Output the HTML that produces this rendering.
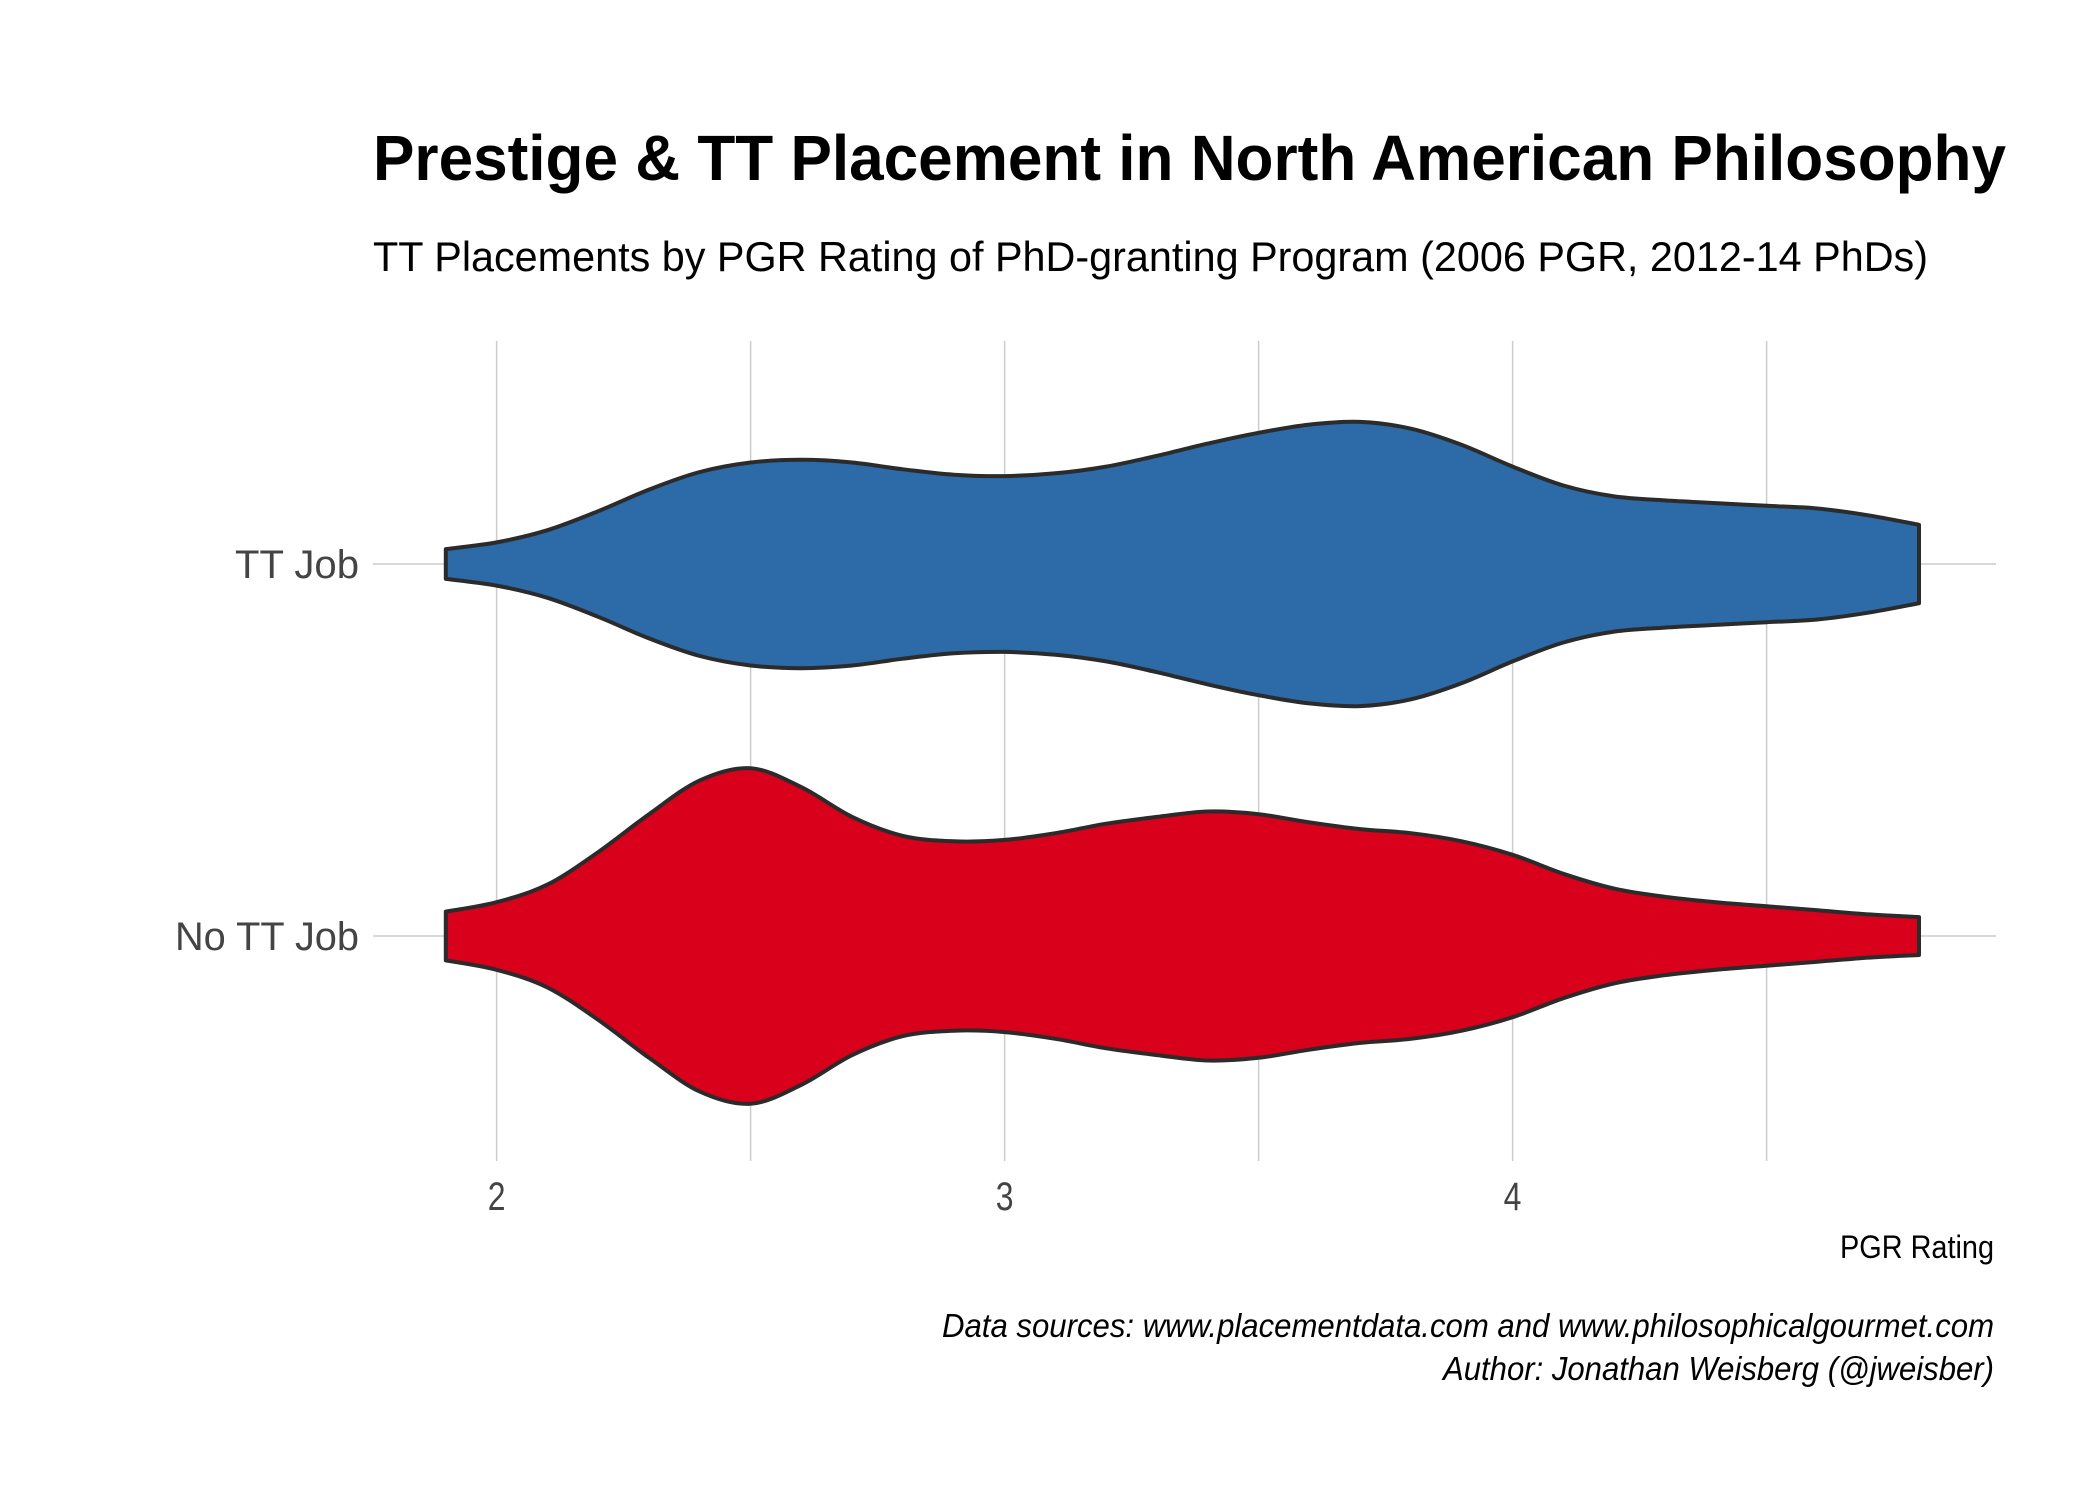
<!DOCTYPE html>
<html><head><meta charset="utf-8"><style>
html,body{margin:0;padding:0;background:#fff;}
svg{display:block;font-family:"Liberation Sans",sans-serif;}
</style></head><body>
<svg id="chart" width="2100" height="1500" viewBox="0 0 2100 1500" xmlns="http://www.w3.org/2000/svg">
<text x="373" y="180" font-size="64" font-weight="bold" fill="#000" textLength="1633" lengthAdjust="spacingAndGlyphs">Prestige &amp; TT Placement in North American Philosophy</text>
<text x="373" y="271" font-size="42" fill="#000" textLength="1555" lengthAdjust="spacingAndGlyphs">TT Placements by PGR Rating of PhD-granting Program (2006 PGR, 2012-14 PhDs)</text>
<g id="grid"></g>
<g id="violins"></g>
<g id="axes"></g>
<text x="1994" y="1258" font-size="32" fill="#000" text-anchor="end" textLength="154" lengthAdjust="spacingAndGlyphs">PGR Rating</text>
<text x="1994" y="1337" font-size="33" font-style="italic" fill="#000" text-anchor="end" textLength="1052" lengthAdjust="spacingAndGlyphs">Data sources: www.placementdata.com and www.philosophicalgourmet.com</text>
<text x="1994" y="1380" font-size="33" font-style="italic" fill="#000" text-anchor="end" textLength="551" lengthAdjust="spacingAndGlyphs">Author: Jonathan Weisberg (@jweisber)</text>
</svg>
<script>
const categories = ["TT Job", "No TT Job"];
const fills = ["#2c6aa8", "#d8001a"];
const gridX = [2, 2.5, 3, 3.5, 4, 4.5];
const tickValues = [2, 3, 4];
const tickLabels = ["2", "3", "4"];
const xs = [1.9,2.0,2.1,2.2,2.3,2.4,2.5,2.6,2.7,2.8,2.9,3.0,3.1,3.2,3.3,3.4,3.5,3.6,3.7,3.8,3.9,4.0,4.1,4.2,4.3,4.4,4.5,4.6,4.7,4.8];
const densTT = [11,16,25,39,55,68,75,77,75,70,66,65,67,72,80,89,97,103,105,100,88,72,58,50,47,45,43,41,36,29];
const densNo = [18,25,38,62,90,115,124,110,88,74,70,71,76,83,88,92,90,84,79,76,70,60,46,35,29,25,22,19,16,14];
const densities = [densTT, densNo];

const NS = "http://www.w3.org/2000/svg";
const px0 = 373, px1 = 1996, py0 = 341, py1 = 1161;
const xScale = v => 496.6 + (v - 2) * 508;
const yScale = i => [564, 936][i];
const wScale = d => d * 1.353;

const grid = document.getElementById('grid');
gridX.forEach(v => {
  const l = document.createElementNS(NS, 'line');
  
  
  l.setAttribute('x1', xScale(v)); l.setAttribute('x2', xScale(v));
  l.setAttribute('y1', py0); l.setAttribute('y2', py1);
  l.setAttribute('stroke', '#cccccc'); l.setAttribute('stroke-width', '1.5');
  grid.appendChild(l);
});
categories.forEach((c, i) => {
  const l = document.createElementNS(NS, 'line');
  
  
  l.setAttribute('x1', px0); l.setAttribute('x2', px1);
  l.setAttribute('y1', yScale(i)); l.setAttribute('y2', yScale(i));
  l.setAttribute('stroke', '#cccccc'); l.setAttribute('stroke-width', '1.5');
  grid.appendChild(l);
});

function smooth(pts) {
  let d = '';
  for (let i = 0; i < pts.length - 1; i++) {
    const p0 = pts[Math.max(0, i - 1)], p1 = pts[i], p2 = pts[i + 1], p3 = pts[Math.min(pts.length - 1, i + 2)];
    const c1x = p1[0] + (p2[0] - p0[0]) / 6, c1y = p1[1] + (p2[1] - p0[1]) / 6;
    const c2x = p2[0] - (p3[0] - p1[0]) / 6, c2y = p2[1] - (p3[1] - p1[1]) / 6;
    d += ` C${c1x.toFixed(1)},${c1y.toFixed(1)} ${c2x.toFixed(1)},${c2y.toFixed(1)} ${p2[0].toFixed(1)},${p2[1].toFixed(1)}`;
  }
  return d;
}
const vg = document.getElementById('violins');
categories.forEach((c, i) => {
  const cy = yScale(i);
  const top = xs.map((x, k) => [xScale(x), cy - wScale(densities[i][k])]);
  const bot = xs.map((x, k) => [xScale(x), cy + wScale(densities[i][k])]).reverse();
  let d = `M${top[0][0]},${top[0][1]}` + smooth(top) + ` L${bot[0][0]},${bot[0][1]}` + smooth(bot) + ' Z';
  const p = document.createElementNS(NS, 'path');
  
  
  p.setAttribute('d', d);
  p.setAttribute('fill', fills[i]);
  p.setAttribute('stroke', '#2b2b2b');
  p.setAttribute('stroke-width', '4');
  p.setAttribute('stroke-linejoin', 'round');
  vg.appendChild(p);
});

const ax = document.getElementById('axes');
tickValues.forEach((v, k) => {
  const t = document.createElementNS(NS, 'text');
  
  
  t.setAttribute('x', xScale(v)); t.setAttribute('y', 1210);
  t.setAttribute('text-anchor', 'middle'); t.setAttribute('font-size', '40');
  t.setAttribute('fill', '#444'); t.setAttribute('transform', `translate(${xScale(v)},0) scale(0.8,1) translate(${-xScale(v)},0)`);
  t.textContent = tickLabels[k];
  ax.appendChild(t);
});
categories.forEach((c, i) => {
  const t = document.createElementNS(NS, 'text');
  
  
  t.setAttribute('x', 359); t.setAttribute('y', yScale(i) + 14);
  t.setAttribute('text-anchor', 'end'); t.setAttribute('font-size', '40');
  t.setAttribute('fill', '#444');
  t.setAttribute('textLength', i === 0 ? 124 : 184);
  t.setAttribute('lengthAdjust', 'spacingAndGlyphs');
  t.textContent = c;
  ax.appendChild(t);
});
</script>
</body></html>
